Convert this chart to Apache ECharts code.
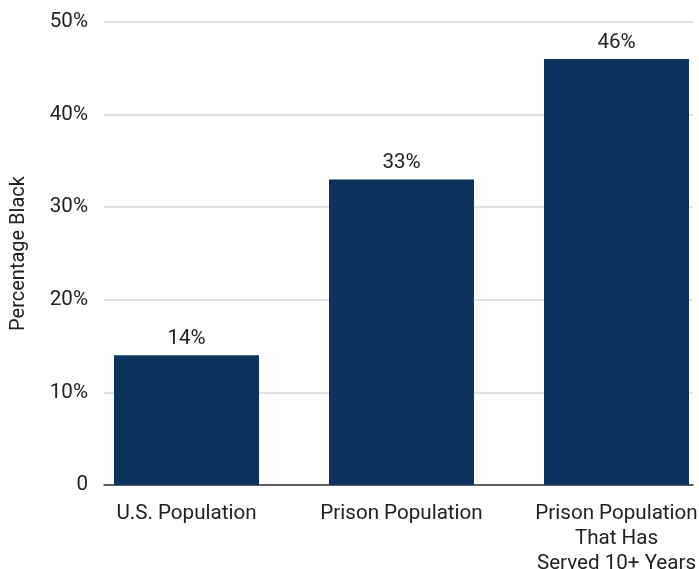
<!DOCTYPE html>
<html><head><meta charset="utf-8">
<script src="https://cdn.jsdelivr.net/npm/echarts@6/dist/echarts.min.js"></script>
<style>html,body{margin:0;padding:0;background:#fff}#c{width:699px;height:569px}</style>
</head><body><div id="c"></div>
<script>
const categories = ['U.S. Population', 'Prison Population', 'Prison Population\nThat Has\nServed 10+ Years'];
const values = [14, 33, 46];
const yTicks = [0, 10, 20, 30, 40, 50];

const FONT = 'Roboto';
const TXT = '#222';
const FS = 20.6;
const chart = echarts.init(document.getElementById('c'));
chart.setOption({
  animation: false,
  textStyle: { fontFamily: FONT },
  grid: [
    { left: 104, right: 6, top: 22, bottom: 84, containLabel: false, outerBoundsMode: 'none' },
    { left: 79, width: 645, top: 22, bottom: 84, containLabel: false, outerBoundsMode: 'none' }
  ],
  xAxis: [
    { gridIndex: 0, type: 'category', data: categories,
      axisLine: { show: true, lineStyle: { color: '#333', width: 1.5 } },
      axisTick: { show: false }, axisLabel: { show: false } },
    { gridIndex: 1, type: 'category', data: categories,
      axisLine: { show: false }, axisTick: { show: false },
      axisLabel: { color: TXT, fontSize: FS, fontFamily: FONT, margin: 16, lineHeight: 25, interval: 0 } }
  ],
  yAxis: [
    { gridIndex: 0, type: 'value', min: yTicks[0], max: yTicks[yTicks.length - 1], interval: 10,
      name: 'Percentage Black', nameLocation: 'middle', nameGap: 75,
      nameTextStyle: { color: TXT, fontSize: 20, fontFamily: FONT },
      axisLine: { show: false }, axisTick: { show: false },
      axisLabel: { color: TXT, fontSize: FS, fontFamily: FONT, margin: 16,
        formatter: v => v === 0 ? '0' : v + '%' },
      splitLine: { lineStyle: { color: '#d9d9d9', width: 1.5 } } },
    { gridIndex: 1, type: 'value', min: yTicks[0], max: yTicks[yTicks.length - 1], interval: 10, show: false,
      splitLine: { show: false } }
  ],
  series: [{
    type: 'bar', xAxisIndex: 1, yAxisIndex: 1, data: values, barWidth: 145,
    itemStyle: { color: '#0b335e' },
    label: { show: true, position: 'top', distance: 6, color: TXT, fontSize: FS, fontFamily: FONT,
      formatter: p => p.value + '%' }
  }]
});
</script></body></html>
